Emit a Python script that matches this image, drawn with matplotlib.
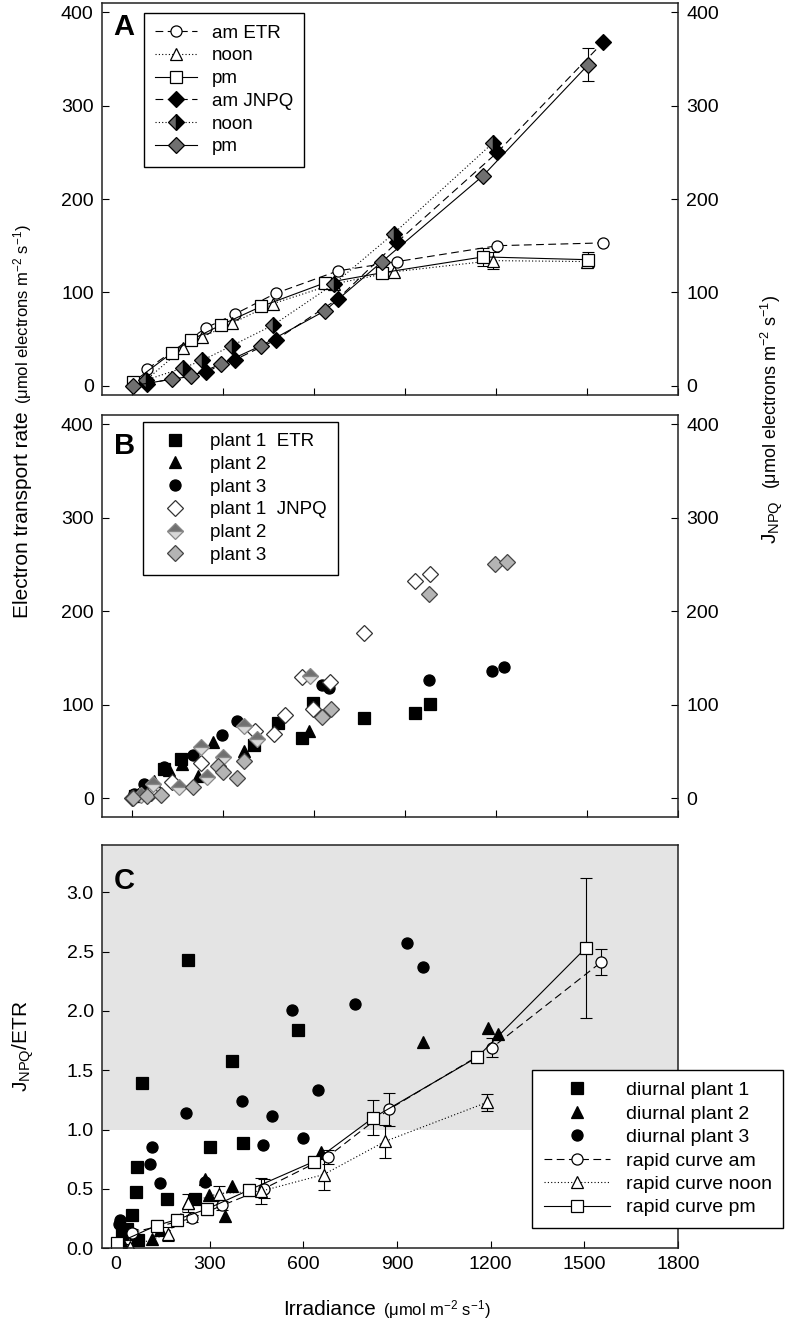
import numpy as np
import matplotlib
matplotlib.use('Agg')
import matplotlib.pyplot as plt
import matplotlib.ticker as ticker

plt.rcParams['font.family'] = ['Liberation Sans', 'DejaVu Sans']
plt.rcParams['mathtext.fontset'] = 'custom'
plt.rcParams['mathtext.rm'] = 'Liberation Sans'
plt.rcParams['mathtext.it'] = 'Liberation Sans:italic'
plt.rcParams['mathtext.default'] = 'regular'

# ---- panel A: rapid light curves (am / noon / pm) ----
am_x = [50, 243, 340, 473, 678, 874, 1204, 1553]
am_etr = [18, 62, 77, 99, 123, 133, 150, 153]
am_jnpq = [2, 15, 28, 49, 93, 154, 250, 368]

noon_x = [45, 167, 230, 329, 465, 665, 862, 1189]
noon_etr_x = [45, 167, 230, 329, 465, 665, 862, 1189, 1500]
noon_etr = [6, 40, 52, 67, 88, 109, 122, 134, 133]
noon_etr_err = [0, 0, 0, 0, 0, 0, 0, 9, 0]
noon_jnpq = [6, 19, 27, 43, 65, 109, 163, 260]

pm_x = [3, 130, 194, 292, 426, 634, 824, 1157, 1504]
pm_etr = [4, 35, 49, 65, 85, 110, 121, 138, 135]
pm_etr_err = [0, 0, 0, 0, 0, 0, 0, 10, 8]
pm_jnpq = [0, 7, 10, 23, 43, 80, 133, 225, 344]
pm_jnpq_err = [0, 0, 0, 0, 0, 0, 0, 0, 18]

# ---- panel B: diurnal measurements ----
p1_etr_x = [8, 45, 104, 160, 402, 480, 559, 597, 765, 933, 983]
p1_etr_y = [2, 12, 31, 42, 57, 80, 64, 102, 86, 91, 101]
p2_etr_x = [20, 70, 120, 164, 218, 265, 367, 582]
p2_etr_y = [5, 18, 30, 37, 24, 60, 50, 72]
p3_etr_x = [5, 38, 104, 200, 296, 345, 625, 650, 979, 1187, 1225]
p3_etr_y = [5, 15, 33, 46, 68, 83, 121, 118, 127, 136, 140]
p1_jnpq_x = [0, 60, 131, 225, 406, 466, 503, 559, 595, 653, 765, 932, 982]
p1_jnpq_y = [0, 6, 17, 38, 72, 69, 89, 130, 95, 124, 177, 232, 240]
p2_jnpq_x = [30, 69, 153, 225, 246, 299, 369, 411, 585]
p2_jnpq_y = [3, 15, 12, 55, 23, 44, 77, 63, 131]
p3_jnpq_x = [2, 49, 93, 201, 281, 300, 345, 367, 627, 655, 979, 1195, 1237]
p3_jnpq_y = [0, 2, 4, 12, 34, 28, 22, 40, 87, 95, 218, 251, 253]

# ---- panel C: JNPQ/ETR ----
d1_x = [20, 36, 51, 64, 66, 71, 84, 162, 229, 253, 301, 372, 407, 584]
d1_y = [0.12, 0.16, 0.28, 0.47, 0.68, 0.07, 1.39, 0.41, 2.43, 0.41, 0.85, 1.58, 0.89, 1.84]
d2_x = [20, 60, 114, 140, 231, 285, 299, 349, 370, 655, 982, 1190, 1224]
d2_y = [0.05, 0.12, 0.08, 0.15, 0.38, 0.58, 0.45, 0.27, 0.52, 0.81, 1.74, 1.86, 1.81]
d3_x = [10, 12, 30, 109, 114, 141, 225, 284, 404, 470, 501, 562, 599, 648, 764, 933, 982]
d3_y = [0.20, 0.24, 0.15, 0.71, 0.85, 0.55, 1.14, 0.56, 1.24, 0.87, 1.11, 2.01, 0.93, 1.33, 2.06, 2.57, 2.37]

r_am_y = [0.13, 0.25, 0.36, 0.50, 0.77, 1.17, 1.69, 2.41]
r_am_err = [0.03, 0.03, 0.04, 0.08, 0.06, 0.14, 0.08, 0.11]
r_noon_y = [0.01, 0.12, 0.38, 0.46, 0.48, 0.62, 0.90, 1.23]
r_noon_err = [0.02, 0.06, 0.08, 0.06, 0.11, 0.13, 0.14, 0.07]
r_pm_y = [0.04, 0.19, 0.24, 0.33, 0.49, 0.73, 1.10, 1.61, 2.53]
r_pm_err = [0.02, 0.05, 0.05, 0.05, 0.05, 0.05, 0.15, 0.05, 0.59]

DASH = (0, (7, 4))
DOT = (0, (1, 2))

fig = plt.figure(figsize=(7.89, 13.26), dpi=100)
L, W = 0.1293, 0.7300
axA = fig.add_axes([L, 0.7021, W, 0.2956])
axB = fig.add_axes([L, 0.3839, W, 0.3032])
axC = fig.add_axes([L, 0.0588, W, 0.3039])


def curve(ax, x, y, ls, marker, label, mfc='white', ms=8, err=None, **kw):
    ax.plot(x, y, ls=ls, color='black', lw=0.8, marker=marker, mfc=mfc,
            mec='black', mew=0.9, ms=ms, label=label, **kw)
    if err is not None:
        x = np.asarray(x)
        y = np.asarray(y)
        err = np.asarray(err)
        m = err > 0
        ax.errorbar(x[m], y[m], yerr=err[m], fmt='none', ecolor='black',
                    elinewidth=0.8, capsize=4, capthick=0.8, zorder=1)


# panel A
curve(axA, am_x, am_etr, DASH, 'o', 'am ETR')
curve(axA, noon_etr_x, noon_etr, DOT, '^', 'noon', err=noon_etr_err)
curve(axA, pm_x, pm_etr, '-', 's', 'pm', err=pm_etr_err)
curve(axA, am_x, am_jnpq, DASH, 'D', 'am JNPQ', mfc='black', ms=8.5)
curve(axA, noon_x, noon_jnpq, DOT, 'D', 'noon', mfc='#6a6a6a', ms=8.5,
      fillstyle='left', markerfacecoloralt='black')
curve(axA, pm_x, pm_jnpq, '-', 'D', 'pm', mfc='#707070', ms=8.5, err=pm_jnpq_err)

# panel B
mk = dict(ls='none', ms=8, mew=0.9)
axB.plot(p1_etr_x, p1_etr_y, marker='s', color='black', label='plant 1  ETR', **mk)
axB.plot(p2_etr_x, p2_etr_y, marker='^', color='black', label='plant 2', **mk)
axB.plot(p3_etr_x, p3_etr_y, marker='o', color='black', label='plant 3', **mk)
axB.plot(p1_jnpq_x, p1_jnpq_y, marker='D', mfc='white', mec='#333333',
         label='plant 1  JNPQ', **mk)
axB.plot(p2_jnpq_x, p2_jnpq_y, marker='D', mfc='#707070', mec='#888888',
         fillstyle='top', markerfacecoloralt='#d8d8d8', label='plant 2', **mk)
axB.plot(p3_jnpq_x, p3_jnpq_y, marker='D', mfc='#b4b4b4', mec='#444444',
         label='plant 3', **mk)

# panel C
axC.axhspan(1.0, 3.4, color='#e4e4e4', lw=0, zorder=0)
axC.plot(d1_x, d1_y, marker='s', color='black', label='diurnal plant 1', **mk)
axC.plot(d2_x, d2_y, marker='^', color='black', label='diurnal plant 2', **mk)
axC.plot(d3_x, d3_y, marker='o', color='black', label='diurnal plant 3', **mk)
curve(axC, am_x, r_am_y, DASH, 'o', 'rapid curve am', err=r_am_err)
curve(axC, noon_x, r_noon_y, DOT, '^', 'rapid curve noon', err=r_noon_err)
curve(axC, pm_x, r_pm_y, '-', 's', 'rapid curve pm', err=r_pm_err)

for ax in (axA, axB):
    ax.set_xlim(-100, 1800)
    ax.set_xticks(range(0, 1801, 300))
    ax.set_yticks(range(0, 401, 100))
    ax.tick_params(direction='in', length=5, labelsize=14, right=True,
                   labelright=True, labelbottom=False, pad=6)
axA.set_ylim(-10, 410)
axB.set_ylim(-20, 410)

axC.set_xlim(-45, 1800)
axC.set_ylim(0, 3.4)
axC.set_xticks(range(0, 1801, 300))
axC.set_yticks(np.arange(0, 3.01, 0.5))
axC.yaxis.set_major_formatter(ticker.FormatStrFormatter('%.1f'))
axC.tick_params(direction='in', length=5, labelsize=14, pad=6)

for ax in (axA, axB, axC):
    for s in ax.spines.values():
        s.set_linewidth(1.1)
        s.set_color('#222222')

leg_kw = dict(loc='upper left', borderaxespad=0, frameon=True,
              fancybox=False, framealpha=1, edgecolor='black',
              labelspacing=0.3, handletextpad=0.8, borderpad=0.6)
lg = axA.legend(bbox_to_anchor=(0.073, 0.974), handlelength=2.2, fontsize=13.5, **leg_kw)
lg.get_frame().set_linewidth(1.0)
lg = axB.legend(bbox_to_anchor=(0.071, 0.983), handlelength=2.2, fontsize=13.5, **leg_kw)
lg.get_frame().set_linewidth(1.0)
lg = axC.legend(bbox_to_anchor=(0.747, 0.442), handlelength=3.4, fontsize=14, **leg_kw)
lg.get_frame().set_linewidth(1.0)

for ax, letter, yy in ((axA, 'A', 0.975), (axB, 'B', 0.958), (axC, 'C', 0.945)):
    ax.text(0.02, yy, letter, transform=ax.transAxes, fontsize=21,
            fontweight='bold', ha='left', va='top')


def rot_label(x, y, main, unit, main_size, unit_size, gap=0.005):
    fig.text(x, y, main, rotation=90, rotation_mode='anchor', ha='right',
             va='baseline', fontsize=main_size)
    fig.text(x, y + gap, unit, rotation=90, rotation_mode='anchor', ha='left',
             va='baseline', fontsize=unit_size)


rot_label(0.0355, 0.690, 'Electron transport rate',
          '($\\mu$mol electrons m$^{-2}$ s$^{-1}$)', 15, 12)
rot_label(0.985, 0.623, 'J$_{NPQ}$',
          '($\\mu$mol electrons m$^{-2}$ s$^{-1}$)', 15, 13, gap=0.008)
fig.text(0.0355, 0.211, 'J$_{NPQ}$/ETR', rotation=90, rotation_mode='anchor',
         ha='center', va='baseline', fontsize=15)

fig.text(376 / 789, 0.008, 'Irradiance', ha='right', va='baseline', fontsize=15)
fig.text(383 / 789, 0.008, '($\\mu$mol m$^{-2}$ s$^{-1}$)', ha='left',
         va='baseline', fontsize=12)

fig.savefig('out.png', dpi=100)
